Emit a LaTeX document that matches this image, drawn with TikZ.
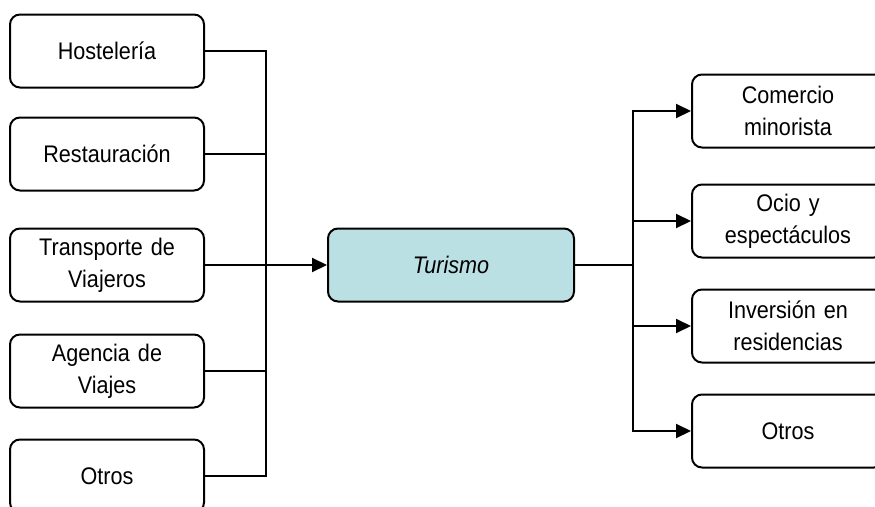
\documentclass[tikz,border=0pt]{standalone}
\usepackage{fontspec}
\setmainfont{Liberation Sans}[FakeStretch=0.9]
\usetikzlibrary{arrows.meta}
\definecolor{turqclaro}{RGB}{187,224,227}
\newcommand{\boxfont}{\fontsize{24}{32}\selectfont\spaceskip=5.5pt\relax}
\begin{document}
\begin{tikzpicture}[
    x=1pt, y=-1pt,
    every path/.style={line width=2pt},
    sector/.style={rectangle, draw, fill=white, font=\boxfont, text width=180pt, align=center, minimum width=194pt, minimum height=73pt, rounded corners=10pt, inner sep=0pt},
    core/.style={rectangle, draw, fill=turqclaro, font=\boxfont\itshape, text width=230pt, align=center, minimum width=246pt, minimum height=73pt, rounded corners=10pt, inner sep=0pt},
    effect/.style={rectangle, draw, fill=white, font=\boxfont, text width=180pt, align=center, minimum width=192pt, minimum height=73pt, rounded corners=10pt, inner sep=0pt},
    >={Triangle[length=15pt,width=14pt]}
]
\useasboundingbox (0,0) rectangle (875,506);

% Sectores
\node[sector] (hostel) at (107,51) {Hostelería};
\node[sector] (restaur) at (107,154) {Restauración};
\node[sector] (transp) at (107,265) {Transporte de\\Viajeros};
\node[sector] (agencia) at (107,371) {Agencia de\\Viajes};
\node[sector] (otros-l) at (107,476) {Otros};

% Turismo
\node[core] (turismo) at (451,265) {Turismo};

% Efectos
\node[effect] (comercio) at (788,111) {Comercio\\minorista};
\node[effect] (ocio) at (788,221) {Ocio y\\espectáculos};
\node[effect] (inversion) at (788,326) {Inversión en\\residencias};
\node[effect] (otros-r) at (788,431) {Otros};

% Buses
\coordinate (ljoin) at (266,265);
\coordinate (rjoin) at (633,265);

% Connections
\draw (hostel.east) -| (ljoin);
\draw (restaur.east) -| (ljoin);
\draw (agencia.east) -| (ljoin);
\draw (otros-l.east) -| (ljoin);
\draw[->] (transp.east) -- (turismo.west);

\draw (turismo.east) -- (rjoin);
\draw[->] (rjoin) |- (comercio.west);
\draw[->] (rjoin) |- (ocio.west);
\draw[->] (rjoin) |- (inversion.west);
\draw[->] (rjoin) |- (otros-r.west);

\end{tikzpicture}
\end{document}
